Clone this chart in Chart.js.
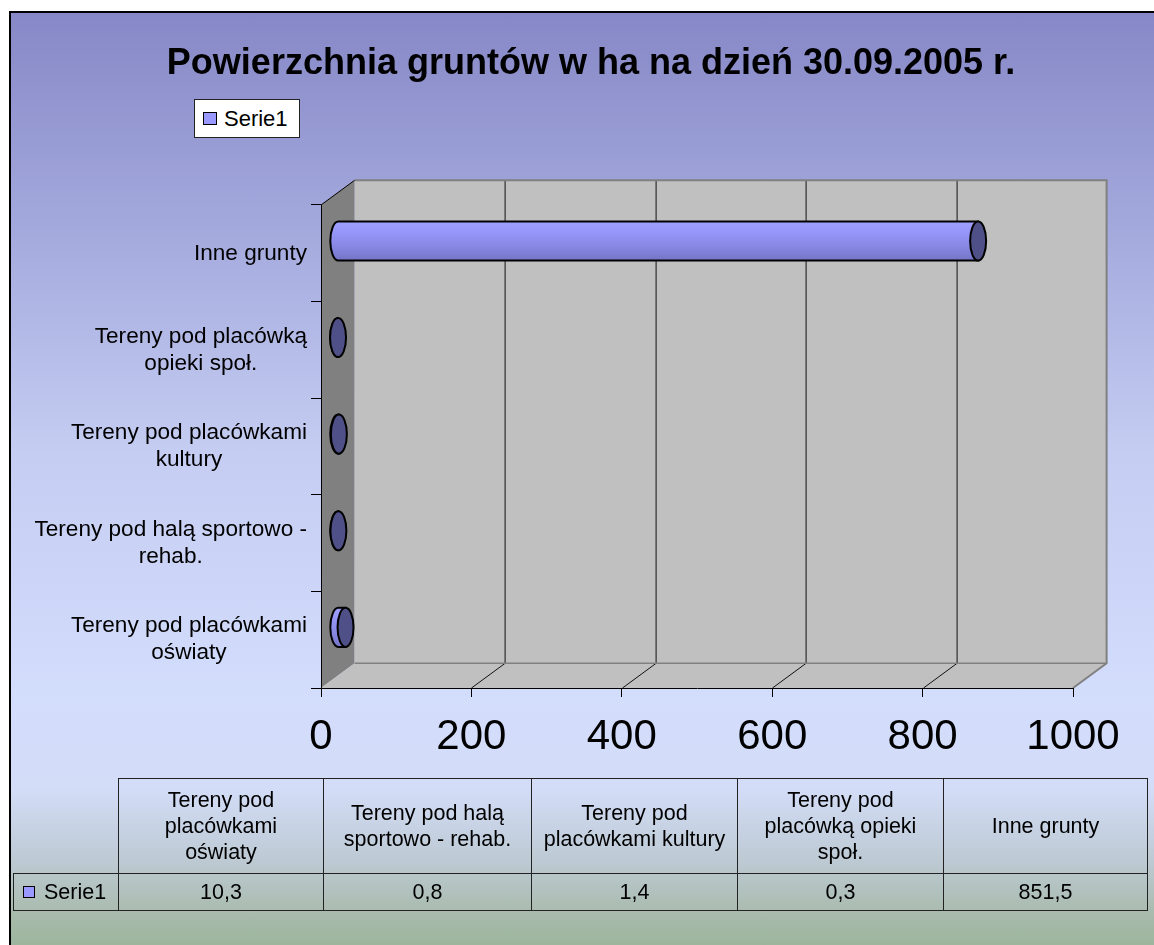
<!DOCTYPE html>
<html>
<head>
<meta charset="utf-8">
<script src="https://cdn.jsdelivr.net/npm/chart.js@4.4.0/dist/chart.umd.min.js"></script>
<style>
html,body{margin:0;padding:0;background:#fff;width:1154px;height:945px;overflow:hidden;font-family:Arial,"Liberation Sans",sans-serif;}
#frame{position:absolute;left:9px;top:11px;width:1170px;height:960px;border:2px solid #000;box-sizing:border-box;
 background:linear-gradient(to bottom,#8788C7 0px,#A0A5DA 190px,#C5CDF2 440px,#D3DDFC 690px,#D3DDF8 775px,#BCC9D2 850px,#A9BBAD 900px,#9AB49A 936px);}
#c{position:absolute;left:0;top:0;}
#title{position:absolute;left:0;top:42px;width:1182px;text-align:center;font-weight:bold;font-size:36px;line-height:40px;color:#000;white-space:nowrap;}
#legend{position:absolute;left:194px;top:99px;width:106px;height:39px;box-sizing:border-box;background:#fff;border:1px solid #222;font-size:22px;line-height:37px;white-space:nowrap;}
#legend .sw{position:absolute;left:8px;top:12px;width:14px;height:13px;box-sizing:border-box;background:#9999FF;border:1px solid #000;}
#legend .tx{position:absolute;left:29px;top:0;}
#tbl{position:absolute;left:13px;top:778px;border-collapse:collapse;table-layout:fixed;font-size:21.5px;color:#000;}
#tbl td{border:1px solid #222;text-align:center;vertical-align:middle;padding:0;line-height:26px;}
#tbl td.empty{border:none;}
#tbl tr.hdr td{height:94px;}
#tbl tr.dat td{height:36px;}
#tbl td.sn{text-align:left;position:relative;}
#tbl td.sn .sw{position:absolute;left:9px;top:12px;width:12px;height:12px;box-sizing:border-box;background:#9999FF;border:1px solid #000;}
#tbl td.sn .tx{padding-left:30px;}
</style>
</head>
<body>
<div id="frame"></div>
<canvas id="c" width="1154" height="945"></canvas>
<div id="title"></div>
<div id="legend"><span class="sw"></span><span class="tx"></span></div>
<table id="tbl"></table>
<script>
// ---- data ----
const chartTitle = 'Powierzchnia gruntów w ha na dzień 30.09.2005 r.';
const seriesName = 'Serie1';
const categories = [
  'Tereny pod placówkami oświaty',
  'Tereny pod halą sportowo - rehab.',
  'Tereny pod placówkami kultury',
  'Tereny pod placówką opieki społ.',
  'Inne grunty'
];
const values = [10.3, 0.8, 1.4, 0.3, 851.5];
const axisLabelLines = [
  ['Tereny pod placówkami', 'oświaty'],
  ['Tereny pod halą sportowo -', 'rehab.'],
  ['Tereny pod placówkami', 'kultury'],
  ['Tereny pod placówką', 'opieki społ.'],
  ['Inne grunty']
];
const tableHeaderLines = [
  ['Tereny pod', 'placówkami', 'oświaty'],
  ['Tereny pod halą', 'sportowo - rehab.'],
  ['Tereny pod', 'placówkami kultury'],
  ['Tereny pod', 'placówką opieki', 'społ.'],
  ['Inne grunty']
];
const xTicks = [0, 200, 400, 600, 800, 1000];

// ---- geometry / style ----
const DX = 33.6, DY = 24.7;
const FONT = 'Arial, "Liberation Sans", sans-serif';

document.getElementById('title').textContent = chartTitle;
document.querySelector('#legend .tx').textContent = seriesName;

// table
(function(){
  const widths = [105, 205, 208, 206, 206, 204];
  const t = document.getElementById('tbl');
  const cg = document.createElement('colgroup');
  widths.forEach(w => { const c = document.createElement('col'); c.style.width = w + 'px'; cg.appendChild(c); });
  t.appendChild(cg);
  const h = document.createElement('tr'); h.className = 'hdr';
  const e = document.createElement('td'); e.className = 'empty'; h.appendChild(e);
  tableHeaderLines.forEach(lines => {
    const td = document.createElement('td');
    lines.forEach((l, i) => { if (i) td.appendChild(document.createElement('br')); td.appendChild(document.createTextNode(l)); });
    h.appendChild(td);
  });
  t.appendChild(h);
  const d = document.createElement('tr'); d.className = 'dat';
  const sn = document.createElement('td'); sn.className = 'sn';
  sn.innerHTML = '<span class="sw"></span><span class="tx"></span>';
  sn.querySelector('.tx').textContent = seriesName;
  d.appendChild(sn);
  values.forEach(v => { const td = document.createElement('td'); td.textContent = v.toFixed(1).replace('.', ','); d.appendChild(td); });
  t.appendChild(d);
})();

const threeD = {
  id: 'threeD',
  beforeDraw(chart) {
    const ctx = chart.ctx, ca = chart.chartArea;
    const L = ca.left, R = ca.right, T = ca.top, B = ca.bottom;
    const xs = chart.scales.x;
    ctx.save();
    // side wall
    ctx.fillStyle = '#808080';
    ctx.beginPath();
    ctx.moveTo(L, T); ctx.lineTo(L + DX, T - DY); ctx.lineTo(L + DX, B - DY); ctx.lineTo(L, B); ctx.closePath();
    ctx.fill();
    // back wall
    ctx.fillStyle = '#C0C0C0';
    ctx.fillRect(L + DX, T - DY, R - L, B - T);
    // floor
    ctx.beginPath();
    ctx.moveTo(L, B); ctx.lineTo(R, B); ctx.lineTo(R + DX, B - DY); ctx.lineTo(L + DX, B - DY); ctx.closePath();
    ctx.fill();
    // gridlines on back wall and floor
    ctx.strokeStyle = '#111'; ctx.lineWidth = 1;
    xs.ticks.forEach((t, i) => {
      if (i === 0 || i === xs.ticks.length - 1) return;
      const px = Math.round(xs.getPixelForValue(t.value)) + 0.5;
      ctx.beginPath();
      ctx.moveTo(px + DX, T - DY); ctx.lineTo(px + DX, B - DY);
      ctx.stroke();
      ctx.beginPath();
      ctx.moveTo(px, B); ctx.lineTo(px + DX, B - DY);
      ctx.stroke();
    });
    // gray edges
    ctx.strokeStyle = '#808080'; ctx.lineWidth = 2;
    ctx.beginPath();
    ctx.moveTo(L + DX, T - DY); ctx.lineTo(R + DX, T - DY); ctx.lineTo(R + DX, B - DY); ctx.lineTo(R, B);
    ctx.stroke();
    ctx.lineWidth = 1.5;
    ctx.beginPath();
    ctx.moveTo(L + DX, B - DY); ctx.lineTo(R + DX, B - DY);
    ctx.stroke();
    // side wall top edge
    ctx.strokeStyle = '#000'; ctx.lineWidth = 1;
    ctx.beginPath();
    ctx.moveTo(L, T); ctx.lineTo(L + DX, T - DY);
    ctx.stroke();
    ctx.restore();
  },
  afterDatasetsDraw(chart) {
    const ctx = chart.ctx;
    const meta = chart.getDatasetMeta(0);
    ctx.save();
    meta.data.forEach(el => {
      const p = el.getProps(['x', 'y', 'base', 'height'], true);
      const x0 = p.base + DX / 2, x1 = p.x + DX / 2, yc = p.y - DY / 2, ry = p.height / 2, rx = 8;
      const g = ctx.createLinearGradient(0, yc - ry, 0, yc + ry);
      g.addColorStop(0, '#A0A0FF');
      g.addColorStop(0.3, '#9595F8');
      g.addColorStop(0.65, '#8787E3');
      g.addColorStop(1, '#7474C6');
      ctx.beginPath();
      ctx.moveTo(x1, yc - ry);
      ctx.lineTo(x0, yc - ry);
      ctx.ellipse(x0, yc, rx, ry, 0, -Math.PI / 2, Math.PI / 2, true);
      ctx.lineTo(x1, yc + ry);
      ctx.closePath();
      ctx.fillStyle = g; ctx.fill();
      ctx.strokeStyle = '#000'; ctx.lineWidth = 2; ctx.stroke();
      ctx.beginPath();
      ctx.ellipse(x1, yc, rx, ry, 0, 0, Math.PI * 2);
      ctx.fillStyle = '#505088'; ctx.fill();
      ctx.stroke();
    });
    ctx.restore();
  },
  afterDraw(chart) {
    const ctx = chart.ctx, ys = chart.scales.y;
    const right = chart.chartArea.left - 14;
    ctx.save();
    ctx.font = '22.6px ' + FONT;
    ctx.fillStyle = '#000';
    ctx.textAlign = 'center';
    ctx.textBaseline = 'middle';
    const lh = 27;
    axisLabelLines.forEach((lines, i) => {
      const y = ys.getPixelForValue(i);
      const w = Math.max(...lines.map(l => ctx.measureText(l).width));
      const cx = right - w / 2;
      lines.forEach((l, j) => ctx.fillText(l, cx, y + (j - (lines.length - 1) / 2) * lh));
    });
    ctx.restore();
  }
};

new Chart(document.getElementById('c').getContext('2d'), {
  type: 'bar',
  data: {
    labels: categories,
    datasets: [{
      label: seriesName,
      data: values,
      backgroundColor: 'rgba(0,0,0,0)',
      borderWidth: 0,
      barPercentage: 0.405,
      categoryPercentage: 1
    }]
  },
  options: {
    responsive: false,
    animation: false,
    indexAxis: 'y',
    layout: { padding: { top: 205, right: 81, bottom: 0, left: 0 } },
    plugins: { legend: { display: false }, tooltip: { enabled: false }, title: { display: false } },
    scales: {
      x: {
        min: xTicks[0], max: xTicks[xTicks.length - 1],
        ticks: {
          stepSize: xTicks[1] - xTicks[0], color: '#000', font: { family: FONT, size: 42 }, padding: 15,
          maxRotation: 0, autoSkip: false,
          callback: v => String(v)
        },
        grid: { drawOnChartArea: false, drawTicks: true, tickLength: 9, color: '#000', lineWidth: 1 },
        border: { color: '#000', width: 1 },
        afterFit(s) { s.height = 257; }
      },
      y: {
        reverse: true,
        ticks: { display: false },
        grid: { drawOnChartArea: false, drawTicks: true, tickLength: 10, color: '#000', offset: true },
        border: { color: '#000', width: 1 },
        afterFit(s) { s.width = 321; }
      }
    }
  },
  plugins: [threeD]
});
</script>
</body>
</html>
